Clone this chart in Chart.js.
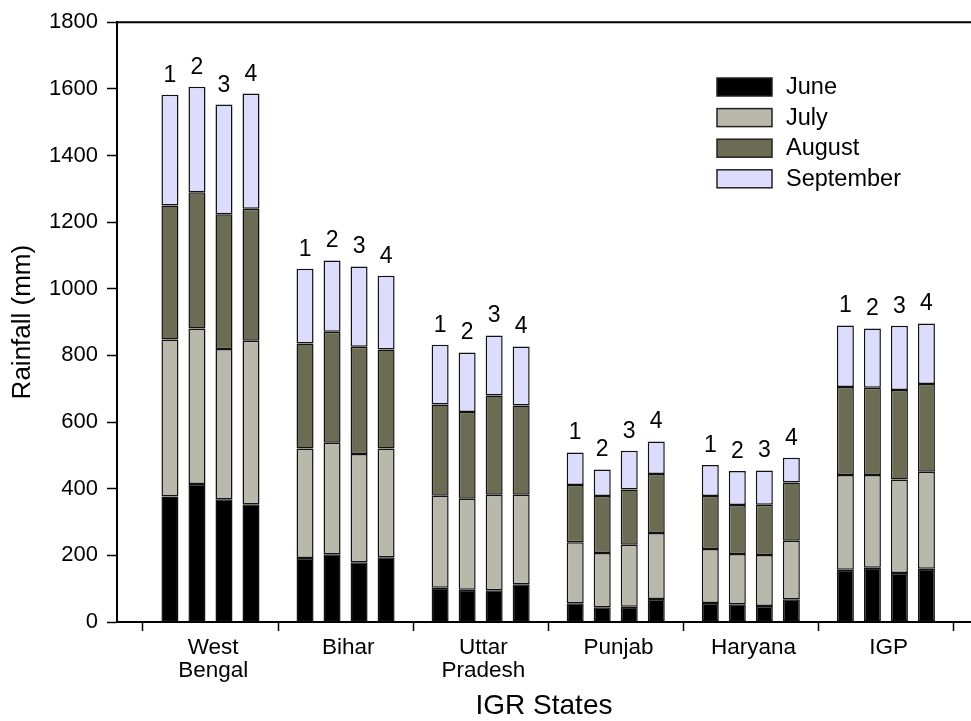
<!DOCTYPE html>
<html>
<head>
<meta charset="utf-8">
<script src="https://cdn.jsdelivr.net/npm/chart.js"></script>
<style>
  html, body { margin: 0; padding: 0; background: #fff; }
  #chart { display: block; }
</style>
</head>
<body>
<canvas id="chart" width="971" height="721"></canvas>
<script>
// --- Datos (mm), 4 barras por estado ---
const states = [["West", "Bengal"], "Bihar", ["Uttar", "Pradesh"], "Punjab", "Haryana", "IGP"];
const barNumbers = ["1", "2", "3", "4"];
const months = ["June", "July", "August", "September"];

const june = [377, 414, 368, 353, 192, 203, 179, 194, 103, 97, 95, 113, 56, 44, 46, 69, 57, 53, 48, 68, 157, 163, 147, 160];
const july = [471, 467, 451, 491, 329, 335, 325, 327, 276, 273, 287, 269, 183, 163, 186, 198, 162, 151, 153, 176, 284, 278, 281, 291];
const august = [402, 409, 405, 396, 315, 333, 322, 297, 274, 260, 298, 268, 172, 171, 166, 177, 159, 147, 151, 175, 264, 262, 268, 263];
const september = [332, 316, 329, 346, 224, 214, 241, 221, 179, 179, 180, 177, 98, 80, 116, 98, 93, 102, 103, 74, 185, 178, 193, 182];

const FONT = '"Liberation Sans", Arial, sans-serif';
const colors = ["#000000", "#b9b9ab", "#6c6c54", "#dcdcfc"];

// posición en el eje: 5 unidades por estado, barras en 1..4
const barX = (i) => 5 * Math.floor(i / 4) + (i % 4) + 1;
const boundaries = [0, 5, 10, 15, 20, 25, 30];
const centers = states.map((s, g) => 5 * g + 2.6);
const isCenter = (v) => centers.some((c) => Math.abs(c - v) < 1e-6);

const series = [june, july, august, september];
const datasets = series.map((values, k) => ({
    label: months[k],
    data: values.map((v, i) => ({ x: barX(i), y: v })),
    backgroundColor: colors[k],
    borderColor: "#111",
    borderWidth: 1.5,
    borderSkipped: false,
    barPercentage: 0.63,
    categoryPercentage: 1,
}));

// números 1-4 sobre cada barra
const barNumberPlugin = {
    id: "barNumbers",
    afterDatasetsDraw(chart) {
        const ctx = chart.ctx;
        const meta = chart.getDatasetMeta(chart.data.datasets.length - 1);
        ctx.save();
        ctx.font = `23px ${FONT}`;
        ctx.fillStyle = "#000";
        ctx.textAlign = "center";
        ctx.textBaseline = "alphabetic";
        meta.data.forEach((el, i) => {
            ctx.fillText(barNumbers[i % 4], el.x, el.y - 13);
        });
        ctx.restore();
    },
};

// leyenda dentro del área y línea superior
const framePlugin = {
    id: "frame",
    afterDraw(chart) {
        const ctx = chart.ctx;
        const area = chart.chartArea;
        ctx.save();
        ctx.strokeStyle = "#000";
        ctx.lineWidth = 2;
        ctx.beginPath();
        ctx.moveTo(area.left, area.top);
        ctx.lineTo(area.right, area.top);
        ctx.stroke();

        ctx.font = `23.5px ${FONT}`;
        ctx.textAlign = "left";
        ctx.textBaseline = "middle";
        chart.data.datasets.forEach((ds, k) => {
            const y = 78 + k * 30.6;
            ctx.fillStyle = ds.backgroundColor;
            ctx.fillRect(717, y, 55, 18);
            ctx.strokeStyle = "#222";
            ctx.lineWidth = 1.5;
            ctx.strokeRect(717, y, 55, 18);
            ctx.fillStyle = "#000";
            ctx.fillText(ds.label, 786, y + 9.5);
        });
        ctx.restore();
    },
};

new Chart(document.getElementById("chart"), {
    type: "bar",
    data: { datasets: datasets },
    options: {
        responsive: false,
        animation: false,
        layout: { padding: { top: 17, right: 0, left: 0, bottom: 0 } },
        plugins: { legend: { display: false }, tooltip: { enabled: false } },
        scales: {
            x: {
                type: "linear",
                stacked: true,
                offset: false,
                min: -0.96,
                max: 30.65,
                afterBuildTicks: (scale) => {
                    scale.ticks = boundaries.concat(centers).sort((a, b) => a - b).map((v) => ({ value: v }));
                },
                afterFit: (scale) => { scale.height = 99; },
                ticks: {
                    autoSkip: false,
                    maxRotation: 0,
                    padding: 5,
                    color: "#000",
                    font: { family: FONT, size: 22.5, lineHeight: 1.04 },
                    callback: (v) => (isCenter(v) ? states[Math.round((v - 2.6) / 5)] : ""),
                },
                grid: {
                    offset: false,
                    drawOnChartArea: false,
                    drawTicks: true,
                    tickLength: 9,
                    tickWidth: 1.5,
                    tickColor: (ctx) => (ctx.tick && isCenter(ctx.tick.value) ? "rgba(0,0,0,0)" : "#000"),
                },
                border: { display: true, color: "#000", width: 2 },
                title: {
                    display: true,
                    text: "IGR States",
                    color: "#000",
                    font: { family: FONT, size: 28, lineHeight: 1 },
                    padding: { top: 0, bottom: 1 },
                },
            },
            y: {
                stacked: true,
                min: 0,
                max: 1800,
                afterFit: (scale) => { scale.width = 117; },
                ticks: {
                    stepSize: 200,
                    padding: 9,
                    color: "#000",
                    font: { family: FONT, size: 22 },
                    callback: (v) => String(v),
                },
                grid: {
                    offset: false,
                    drawOnChartArea: false,
                    drawTicks: true,
                    tickLength: 10,
                    tickWidth: 1.5,
                    tickColor: "#000",
                },
                border: { display: true, color: "#000", width: 2 },
                title: {
                    display: true,
                    text: "Rainfall (mm)",
                    color: "#000",
                    font: { family: FONT, size: 26, lineHeight: 1 },
                    padding: { top: 10, bottom: 0 },
                },
            },
        },
    },
    plugins: [barNumberPlugin, framePlugin],
});
</script>
</body>
</html>
